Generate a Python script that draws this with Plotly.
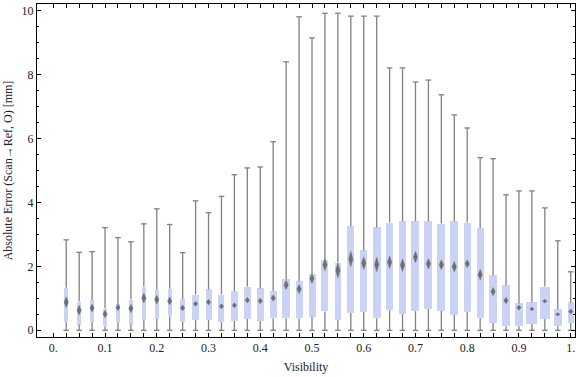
import plotly.graph_objects as go

# ---------------- data ----------------
visibility = [0.025, 0.05, 0.075, 0.1, 0.125, 0.15, 0.175, 0.2, 0.225, 0.25,
              0.275, 0.3, 0.325, 0.35, 0.375, 0.4, 0.425, 0.45, 0.475, 0.5,
              0.525, 0.55, 0.575, 0.6, 0.625, 0.65, 0.675, 0.7, 0.725, 0.75,
              0.775, 0.8, 0.825, 0.85, 0.875, 0.9, 0.925, 0.95, 0.975, 1.0]

whisker_low = [0.0] * 40
whisker_high = [2.83, 2.44, 2.46, 3.21, 2.90, 2.77, 3.33, 3.80, 3.31, 2.43,
                4.05, 3.68, 4.19, 4.87, 5.08, 5.11, 5.90, 8.40, 9.81, 9.15,
                9.92, 9.92, 9.83, 9.83, 9.83, 8.21, 8.21, 7.77, 7.83, 7.37,
                6.74, 6.33, 5.40, 5.37, 4.24, 4.36, 4.36, 3.83, 2.80, 1.83]
q1 = [0.26, 0.18, 0.26, 0.13, 0.26, 0.18, 0.32, 0.35, 0.44, 0.26,
      0.32, 0.32, 0.26, 0.29, 0.35, 0.29, 0.38, 0.38, 0.38, 0.43,
      0.59, 0.32, 0.54, 0.57, 0.38, 0.63, 0.51, 0.60, 0.67, 0.60,
      0.48, 0.57, 0.38, 0.23, 0.13, 0.13, 0.20, 0.35, 0.13, 0.23]
median = [0.88, 0.63, 0.70, 0.51, 0.71, 0.68, 1.01, 0.96, 0.92, 0.70,
          0.83, 0.88, 0.75, 0.78, 0.94, 0.92, 1.01, 1.42, 1.29, 1.62,
          2.05, 1.87, 2.23, 2.10, 2.06, 2.13, 2.04, 2.29, 2.08, 2.05,
          1.99, 2.08, 1.74, 1.21, 0.93, 0.71, 0.67, 0.91, 0.50, 0.59]
q3 = [1.33, 0.90, 0.94, 0.68, 0.81, 0.96, 1.37, 1.27, 1.30, 0.97,
      1.12, 1.28, 1.12, 1.22, 1.37, 1.31, 1.22, 1.59, 1.53, 1.77,
      2.19, 2.12, 3.25, 2.50, 3.22, 3.37, 3.41, 3.41, 3.41, 3.34,
      3.41, 3.37, 3.19, 1.72, 1.41, 0.84, 0.87, 1.37, 0.66, 0.87]
# half-height of the median notch (confidence band around the median)
notch = [0.17, 0.15, 0.125, 0.12, 0.10, 0.135, 0.155, 0.14, 0.125, 0.09,
         0.08, 0.09, 0.08, 0.08, 0.09, 0.09, 0.10, 0.145, 0.145, 0.155,
         0.19, 0.24, 0.245, 0.20, 0.23, 0.20, 0.20, 0.18, 0.165, 0.155,
         0.165, 0.125, 0.17, 0.13, 0.10, 0.08, 0.06, 0.06, 0.05, 0.08]

x_tick_positions = [0.025 * j for j in range(41)]
x_tick_labels = ["0.", "0.1", "0.2", "0.3", "0.4", "0.5", "0.6", "0.7", "0.8", "0.9", "1."]

# ---------------- styles ----------------
BOX_COLOR = "rgb(202,210,245)"
WHISKER_COLOR = "rgb(128,128,128)"
NOTCH_COLOR = "rgba(100,100,100,0.9)"
FONT = "Liberation Serif"
TEXT_COLOR = "#222"
# box widths (in pixels, they vary per box in the reference)
box_width_px = [4.3, 3.7, 3.3, 3.3, 3.3, 3.7, 4.0, 4.3, 4.3, 5.3,
                6.3, 6.0, 6.0, 7.0, 7.0, 7.0, 7.0, 8.7, 7.0, 7.0,
                7.0, 6.5, 7.0, 7.0, 8.0, 6.5, 7.0, 8.0, 8.0, 8.0,
                8.0, 7.3, 7.3, 7.3, 8.3, 8.3, 11.0, 10.0, 8.0, 6.0]
X_RANGE = [-0.0315, 1.0083]
Y_RANGE = [-0.21, 10.21]
W, H = 576, 377
M = dict(l=37, r=1, t=4, b=40)
px_per_x = (W - M["l"] - M["r"]) / (X_RANGE[1] - X_RANGE[0])
box_widths = [w / px_per_x for w in box_width_px]
notch_half_w = 2.2 / px_per_x

fig = go.Figure()

# boxes
fig.add_trace(go.Bar(
    x=visibility, base=q1, y=[b - a for a, b in zip(q1, q3)], width=box_widths,
    marker=dict(color=BOX_COLOR, line=dict(width=0)), hoverinfo="skip", showlegend=False))

# whiskers (outside the box)
wx, wy = [], []
for x, lo, a, b, hi in zip(visibility, whisker_low, q1, q3, whisker_high):
    wx += [x, x, None, x, x, None]
    wy += [lo, a, None, b, hi, None]
fig.add_trace(go.Scatter(x=wx, y=wy, mode="lines",
                         line=dict(color=WHISKER_COLOR, width=1.3),
                         hoverinfo="skip", showlegend=False))
# whisker caps
fig.add_trace(go.Scatter(x=visibility + visibility, y=whisker_low + whisker_high, mode="markers",
                         marker=dict(symbol="line-ew", size=4,
                                     line=dict(color=WHISKER_COLOR, width=1.3)),
                         hoverinfo="skip", showlegend=False))

# median notch diamonds
dx, dy = [], []
for x, m, n in zip(visibility, median, notch):
    dx += [x - notch_half_w, x, x + notch_half_w, x, x - notch_half_w, None]
    dy += [m, m + n, m, m - n, m, None]
fig.add_trace(go.Scatter(x=dx, y=dy, mode="lines", fill="toself",
                         fillcolor=NOTCH_COLOR, line=dict(width=0.6, color="rgba(110,110,110,0.6)"),
                         hoverinfo="skip", showlegend=False))

ticktext = []
for j in range(41):
    ticktext.append(x_tick_labels[j // 4] if j % 4 == 0 else "")

fig.update_layout(
    width=W, height=H, margin=M,
    plot_bgcolor="white", paper_bgcolor="white",
    font=dict(family=FONT, size=12, color=TEXT_COLOR),
    bargap=0,
    xaxis=dict(range=X_RANGE, tickmode="array", tickvals=x_tick_positions, ticktext=ticktext,
               ticks="inside", ticklen=4, tickwidth=1, tickcolor="black",
               showline=True, linecolor="black", linewidth=1, mirror="ticks",
               showgrid=False, zeroline=False, automargin=False,
               tickfont=dict(family=FONT, size=12, color=TEXT_COLOR),
               title=dict(text="Visibility", font=dict(family=FONT, size=12, color=TEXT_COLOR), standoff=8)),
    yaxis=dict(range=Y_RANGE, tickmode="linear", tick0=0, dtick=2,
               ticks="inside", ticklen=4, tickwidth=1, tickcolor="black",
               minor=dict(dtick=0.5, tick0=0, ticks="inside", ticklen=2, tickcolor="black", showgrid=False),
               showline=True, linecolor="black", linewidth=1, mirror="ticks",
               showgrid=False, zeroline=False, automargin=False,
               tickfont=dict(family=FONT, size=12, color=TEXT_COLOR),
               title=dict(text="Absolute Error (Scan→Ref, O) [mm]",
                          font=dict(family=FONT, size=12, color=TEXT_COLOR), standoff=6)),
)

fig.write_html("out.html", config={"displayModeBar": False},
               post_script="document.body.style.margin='0px';")
